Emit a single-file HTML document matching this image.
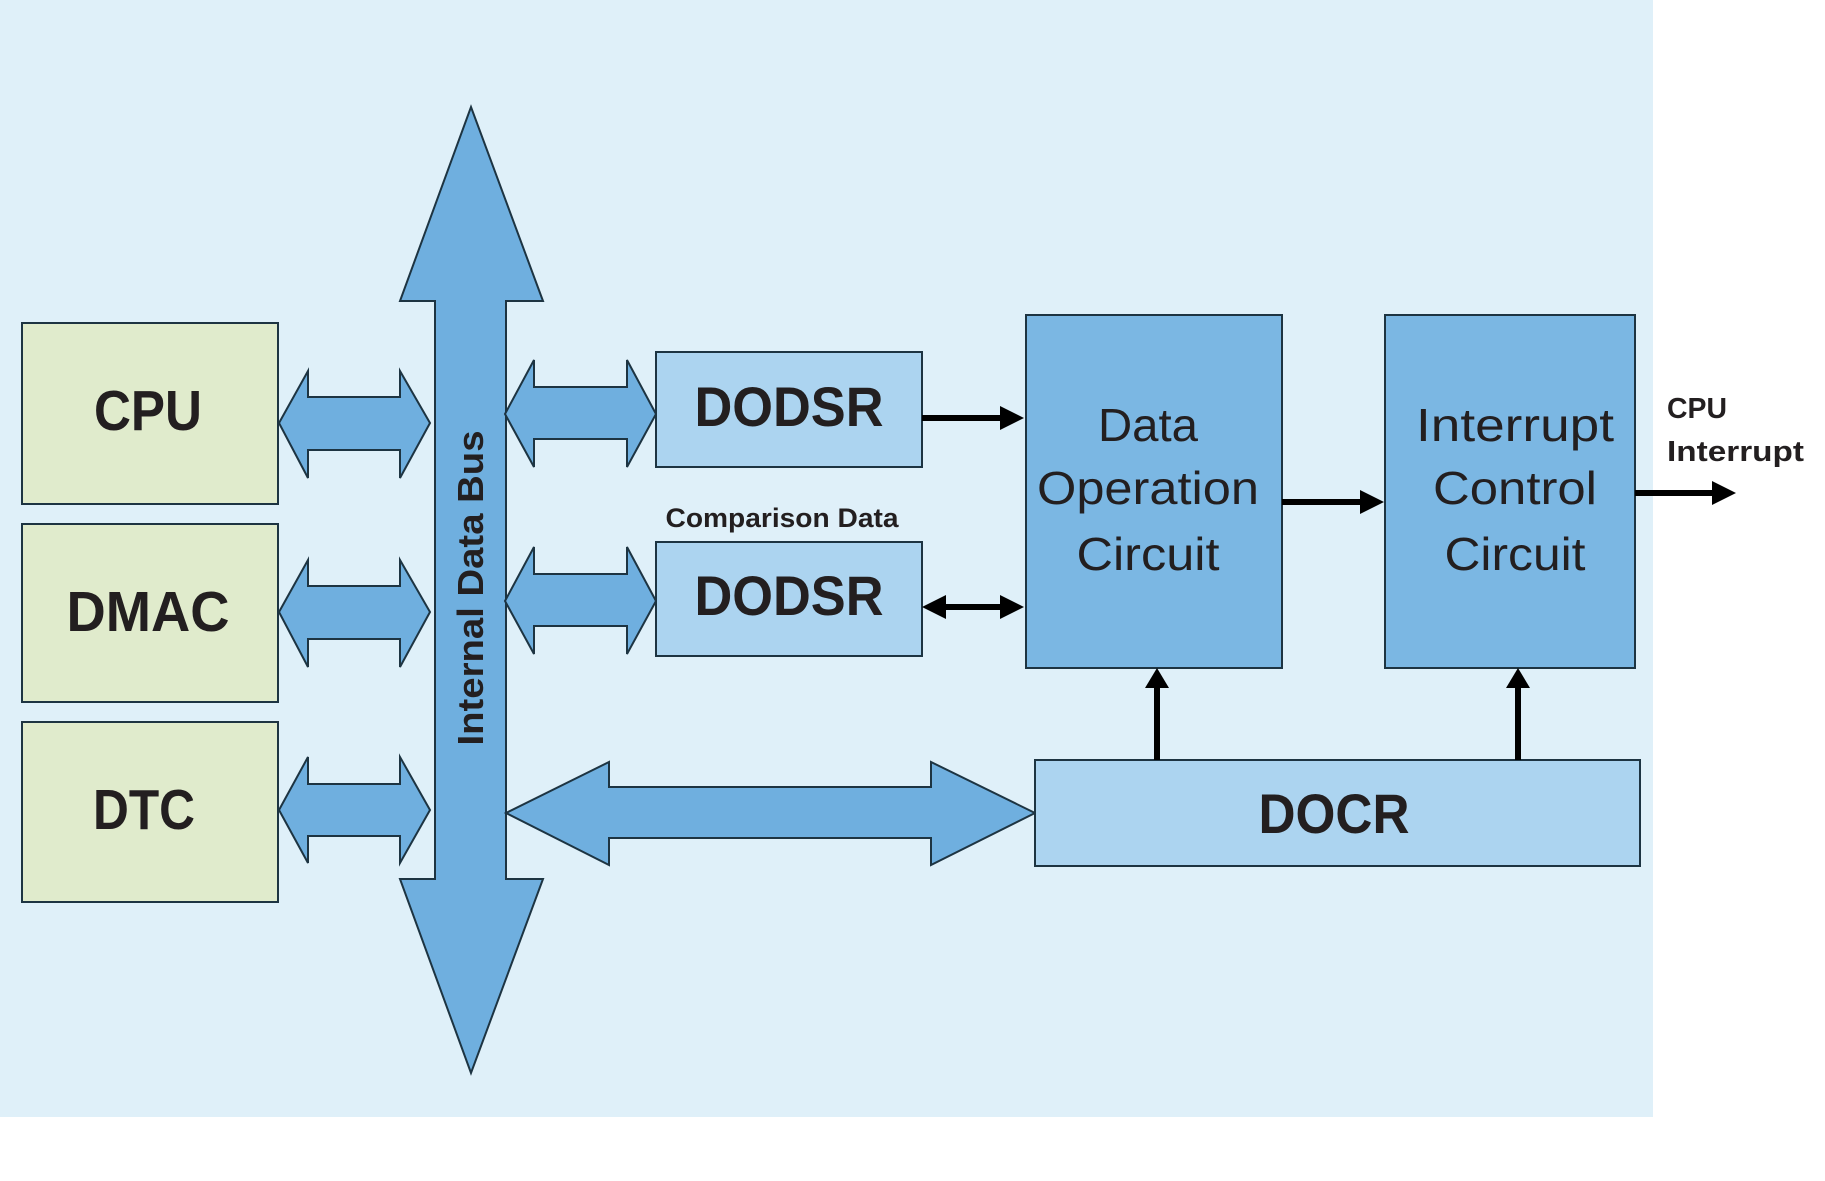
<!DOCTYPE html>
<html><head><meta charset="utf-8"><style>html,body{margin:0;padding:0;background:#fff}svg{display:block}</style></head>
<body>
<svg width="1825" height="1181" viewBox="0 0 1825 1181" xmlns="http://www.w3.org/2000/svg" font-family="'Liberation Sans Narrow','Liberation Sans',sans-serif">
<rect x="0" y="0" width="1653" height="1117" fill="#dff0f9"/>
<g stroke="#1d3442" stroke-width="2" stroke-linejoin="miter">
<!-- bus -->
<polygon points="471,107 543,301 506,301 506,879 543,879 471,1073 400,879 435,879 435,301 400,301" fill="#6fafdf"/>
<!-- boxes left -->
<rect x="22" y="323" width="256" height="181" fill="#e0ebcc"/>
<rect x="22" y="524" width="256" height="178" fill="#e0ebcc"/>
<rect x="22" y="722" width="256" height="180" fill="#e0ebcc"/>
<!-- left arrows -->
<polygon points="279,423 308,371 308,397 400,397 400,371 430,423 400,478 400,450 308,450 308,478" fill="#6fafdf"/>
<polygon points="279,612 308,560 308,586 400,586 400,560 430,612 400,667 400,639 308,639 308,667" fill="#6fafdf"/>
<polygon points="279,810 308,757 308,784 400,784 400,757 430,810 400,863 400,836 308,836 308,863" fill="#6fafdf"/>
<!-- right arrows -->
<polygon points="505,414 534,360 534,387 627,387 627,360 656,414 627,467 627,439 534,439 534,467" fill="#6fafdf"/>
<polygon points="505,601 534,547 534,574 627,574 627,547 656,601 627,654 627,626 534,626 534,654" fill="#6fafdf"/>
<!-- big arrow -->
<polygon points="506,813 609,762 609,787 931,787 931,762 1035,813 931,865 931,838 609,838 609,865" fill="#6fafdf"/>
<!-- DODSR -->
<rect x="656" y="352" width="266" height="115" fill="#acd4f0"/>
<rect x="656" y="542" width="266" height="114" fill="#acd4f0"/>
<!-- DOC / ICC -->
<rect x="1026" y="315" width="256" height="353" fill="#7bb7e3"/>
<rect x="1385" y="315" width="250" height="353" fill="#7bb7e3"/>
<!-- DOCR -->
<rect x="1035" y="760" width="605" height="106" fill="#acd4f0"/>
</g>
<!-- black arrows -->
<g fill="#000" stroke="none">
<rect x="922" y="415" width="80" height="6"/><polygon points="1000,406 1024,418 1000,430"/>
<rect x="944" y="604" width="58" height="6"/><polygon points="1000,595 1024,607 1000,619"/><polygon points="946,595 922,607 946,619"/>
<rect x="1282" y="499" width="80" height="6"/><polygon points="1360,490 1384,502 1360,514"/>
<rect x="1635" y="490" width="80" height="6"/><polygon points="1712,481 1736,493 1712,505"/>
<rect x="1154" y="686" width="6" height="74"/><polygon points="1145,688 1157,668 1169,688"/>
<rect x="1515" y="686" width="6" height="74"/><polygon points="1506,688 1518,668 1530,688"/>
</g>
<!-- text -->
<g fill="#231f20" font-weight="bold" text-anchor="middle">
<text x="148" y="430" font-size="57" textLength="108" lengthAdjust="spacingAndGlyphs">CPU</text>
<text x="148" y="631" font-size="57" textLength="163" lengthAdjust="spacingAndGlyphs">DMAC</text>
<text x="144" y="829" font-size="57" textLength="102" lengthAdjust="spacingAndGlyphs">DTC</text>
<text x="789" y="426" font-size="56" textLength="189" lengthAdjust="spacingAndGlyphs">DODSR</text>
<text x="789" y="615" font-size="56" textLength="189" lengthAdjust="spacingAndGlyphs">DODSR</text>
<text x="1334" y="833" font-size="56" textLength="151" lengthAdjust="spacingAndGlyphs">DOCR</text>
<text x="782" y="527" font-size="27" textLength="233" lengthAdjust="spacingAndGlyphs">Comparison Data</text>
<text transform="translate(483,588) rotate(-90)" x="0" y="0" font-size="36" font-family="'Liberation Sans',sans-serif" textLength="315" lengthAdjust="spacingAndGlyphs">Internal Data Bus</text>
</g>
<g fill="#231f20" text-anchor="middle" font-size="46">
<text x="1148" y="441" textLength="100" lengthAdjust="spacingAndGlyphs">Data</text>
<text x="1148" y="504" textLength="222" lengthAdjust="spacingAndGlyphs">Operation</text>
<text x="1148" y="570" textLength="143" lengthAdjust="spacingAndGlyphs">Circuit</text>
<text x="1515" y="441" textLength="198" lengthAdjust="spacingAndGlyphs">Interrupt</text>
<text x="1515" y="504" textLength="164" lengthAdjust="spacingAndGlyphs">Control</text>
<text x="1515" y="570" textLength="141" lengthAdjust="spacingAndGlyphs">Circuit</text>
</g>
<g fill="#231f20" font-weight="bold" font-size="29">
<text x="1667" y="418" textLength="60" lengthAdjust="spacingAndGlyphs">CPU</text>
<text x="1667" y="461" textLength="137" lengthAdjust="spacingAndGlyphs">Interrupt</text>
</g>
</svg>
</body></html>
